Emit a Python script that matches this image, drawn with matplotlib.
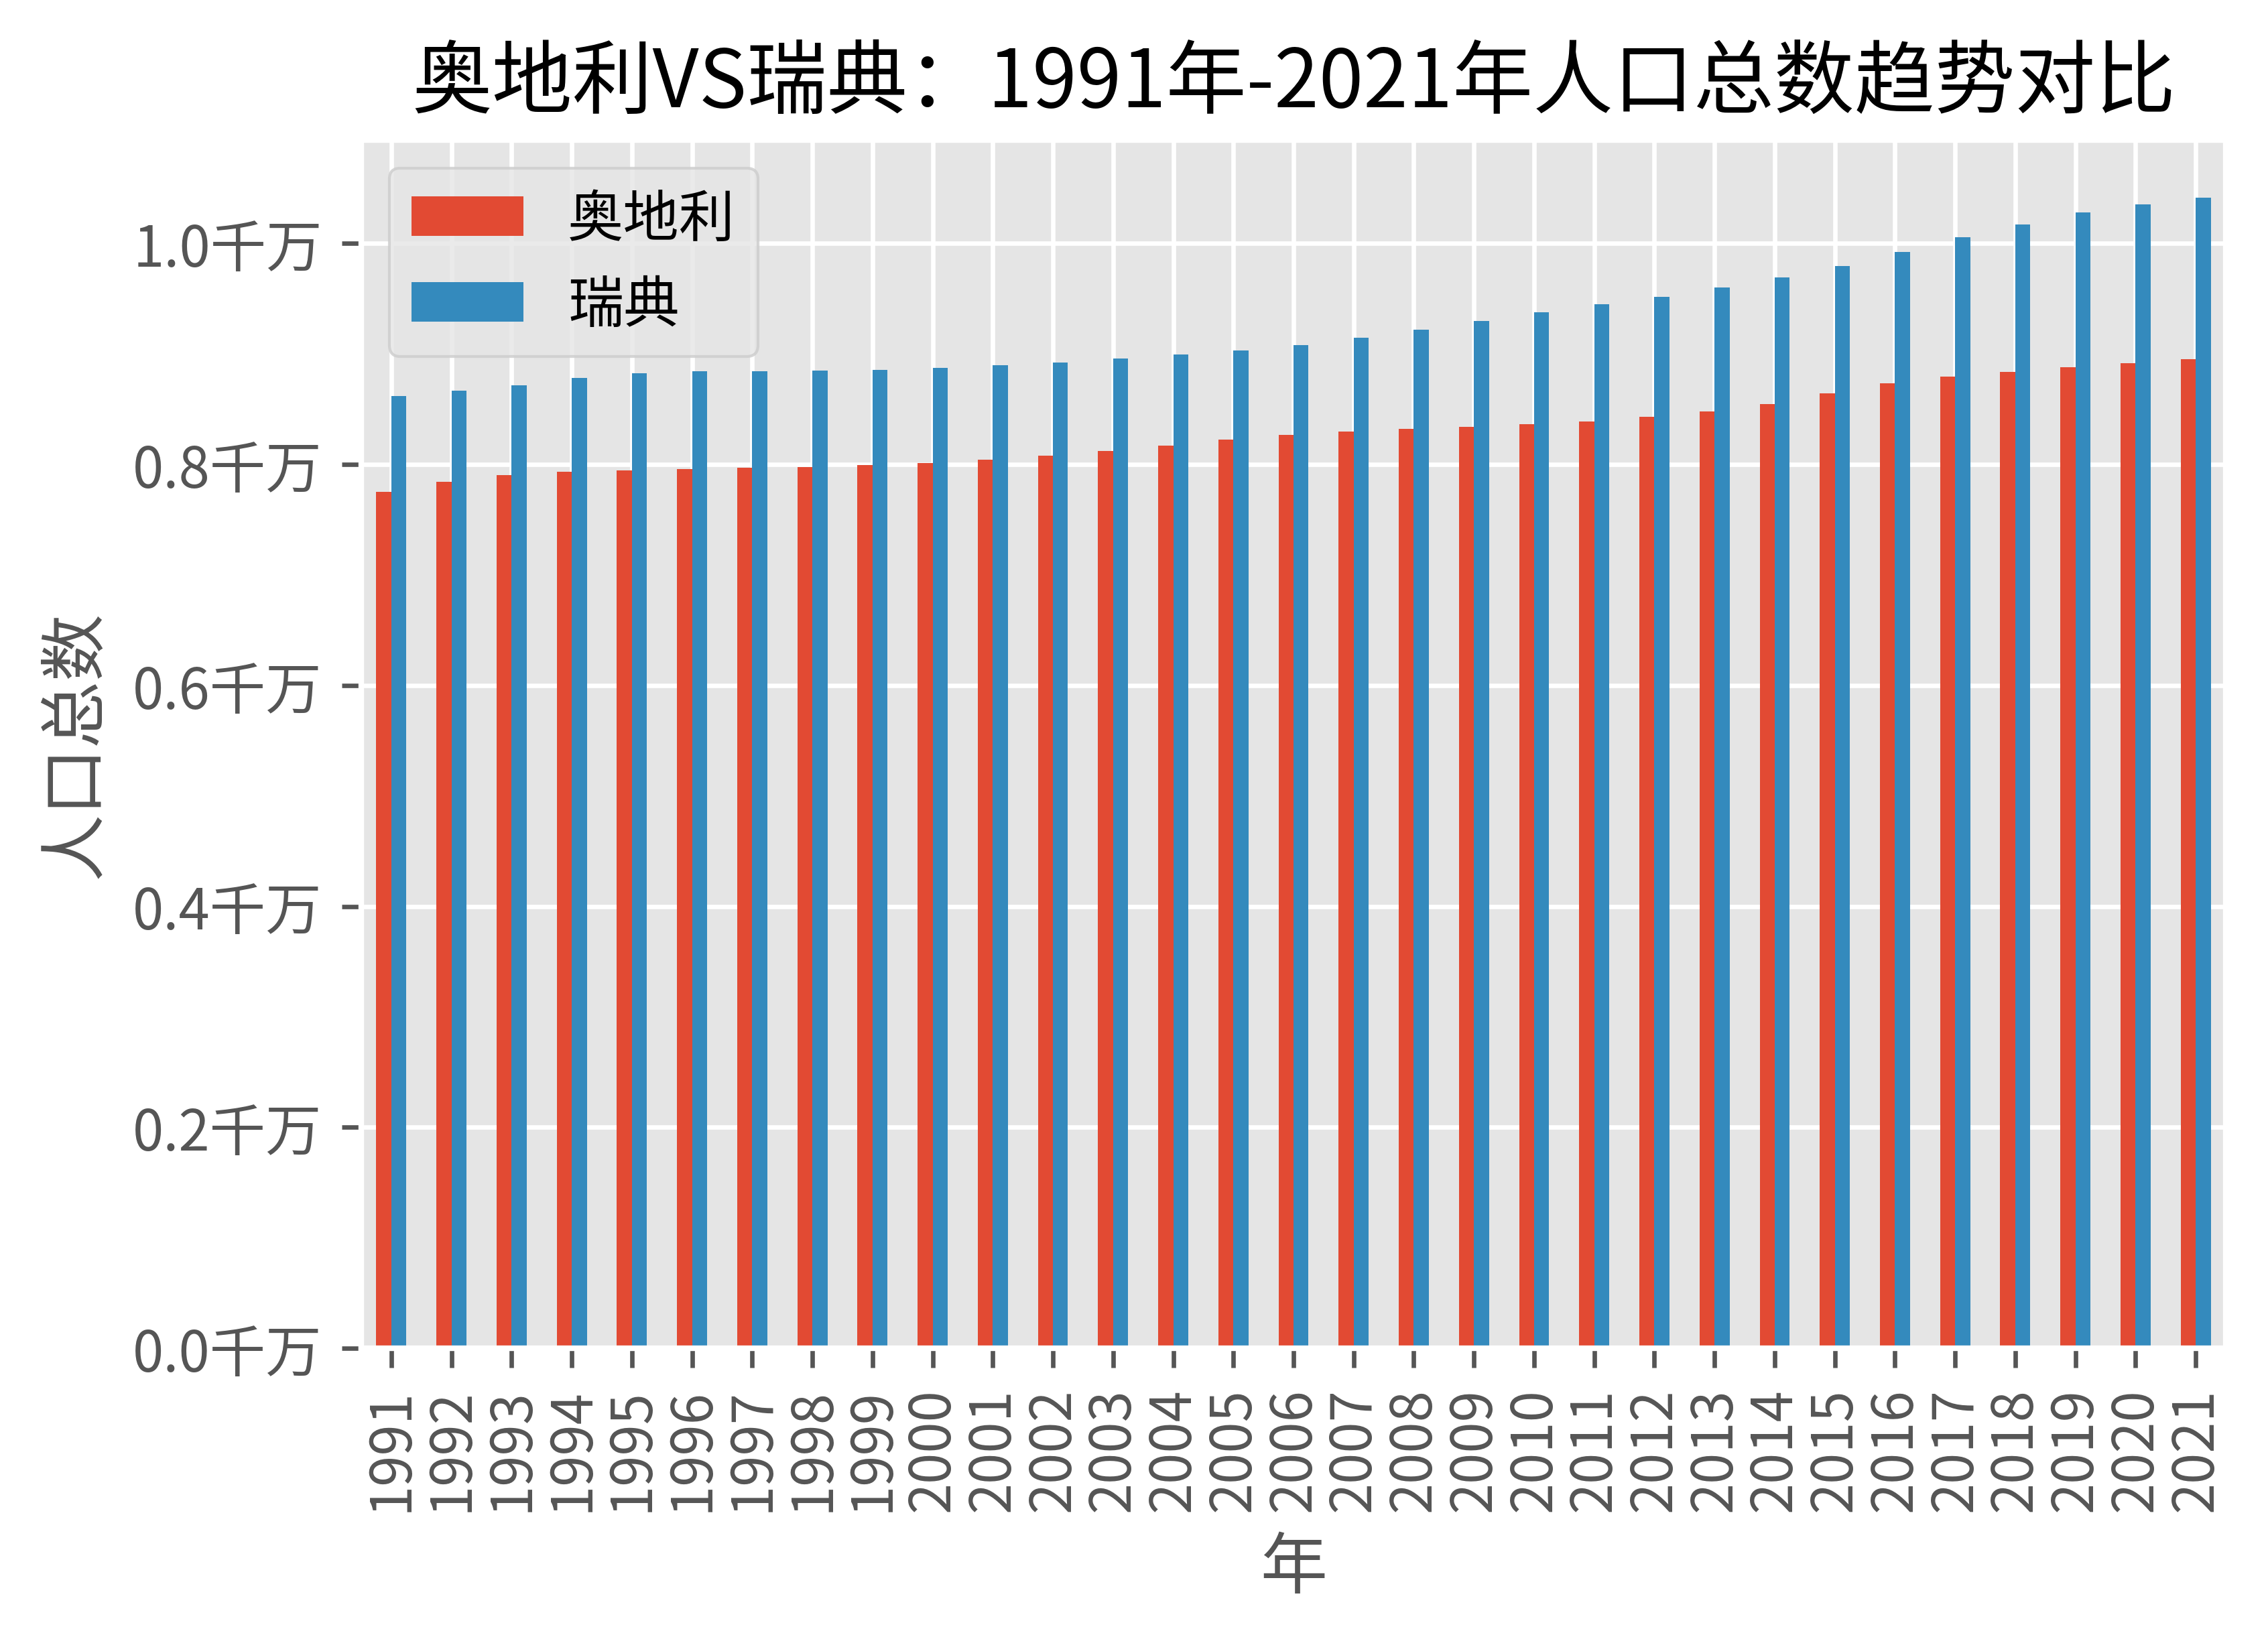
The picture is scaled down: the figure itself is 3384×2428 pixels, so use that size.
import matplotlib
matplotlib.use("Agg")
import matplotlib.pyplot as plt
import pandas as pd
from matplotlib.ticker import FuncFormatter

# 年份与人口（人）
nian = list(range(1991, 2022))
aodili = [7754891, 7840709, 7905633, 7936118, 7948278, 7959017, 7968041, 7976789,
          7992324, 8011566, 8042293, 8081957, 8121423, 8171966, 8227829, 8268641,
          8295487, 8321496, 8343323, 8363404, 8391643, 8429991, 8479823, 8546356,
          8642699, 8736668, 8797566, 8840521, 8879920, 8916864, 8955797]
ruidian = [8617375, 8668067, 8718561, 8780745, 8826939, 8840998, 8846062, 8850974,
           8857874, 8872109, 8895960, 8924958, 8958229, 8993531, 9029572, 9080505,
           9148092, 9219637, 9298515, 9378126, 9449213, 9519374, 9600379, 9696110,
           9799186, 9923085, 10057698, 10175214, 10278887, 10353442, 10415811]

plt.style.use("ggplot")
plt.rcParams["font.family"] = ["Noto Sans CJK SC", "DejaVu Sans"]
plt.rcParams["axes.unicode_minus"] = False

df = pd.DataFrame({"奥地利": aodili, "瑞典": ruidian}, index=nian)

fig = plt.figure(figsize=(3384 / 600, 2429 / 600), dpi=600)
ax = fig.add_axes([539 / 3384, 1 - 2013 / 2429, (3321 - 539) / 3384, (2013 - 210) / 2429])
df.plot.bar(ax=ax)

ax.yaxis.set_major_formatter(FuncFormatter(lambda x, pos: f"{x / 1e7:.1f}千万"))
ax.set_title("奥地利VS瑞典：1991年-2021年人口总数趋势对比")
ax.set_xlabel("年")
ax.set_ylabel("人口总数")
ax.legend(loc="upper left")

fig.savefig("out.png", dpi=600)
